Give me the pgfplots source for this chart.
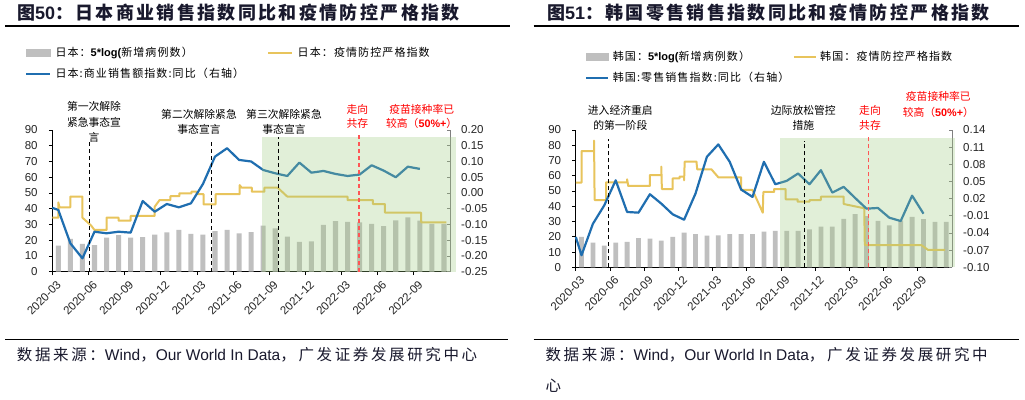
\documentclass[border=0pt]{standalone}
\usepackage{pgfplots}
\pgfplotsset{compat=1.18}
\usepackage{fontspec}
\setmainfont{Liberation Sans}
\newfontfamily\cjk{Noto Sans CJK SC}
\newfontfamily\cjkL[LetterSpace=10]{Noto Sans CJK SC}
\newfontfamily\cjkT[LetterSpace=13]{Noto Sans CJK SC}
\newfontfamily\cjkS[LetterSpace=17]{Noto Sans CJK SC}
\newcommand\fs[1]{\fontsize{#1}{#1}\selectfont}
\definecolor{barg}{RGB}{191,191,191}
\definecolor{yel}{RGB}{232,196,92}
\definecolor{blu}{RGB}{31,110,176}
\definecolor{grn}{rgb}{0.62,0.80,0.50}
\definecolor{redt}{RGB}{255,0,0}
\definecolor{redd}{RGB}{255,85,85}
\definecolor{ttl}{RGB}{25,25,45}
\definecolor{axg}{RGB}{128,128,128}
\pgfplotsset{
  base/.style={scale only axis, xmin=0, xmax=33, anchor=south west,
    /pgf/number format/assume math mode=true,
    tick label style={font=\fs{11.5}, text=black!85}},
  leftax/.style={base, ymin=0, ymax=90,
    axis x line*=bottom, axis y line*=left,
    axis line style={-, black, line width=0.8pt},
    tick style={black, line width=0.8pt},
    tick align=outside, major tick length=3.5pt,
    xtick={0,3,...,30},
    xticklabels={2020-03,2020-06,2020-09,2020-12,2021-03,2021-06,2021-09,2021-12,2022-03,2022-06,2022-09},
    xticklabel style={inner sep=0pt, xshift=6.8pt, yshift=-7.7pt, rotate=45, anchor=east},
    ytick={0,10,...,90},
    yticklabel style={inner sep=0pt, xshift=-11pt}},
  rightax/.style={base, axis x line=none, xtick=\empty, axis y line*=right,
    axis line style={-, axg, line width=0.8pt},
    tick style={axg, line width=0.8pt}, tick align=inside, major tick length=3.5pt,
    yticklabel style={inner sep=0pt, xshift=11pt}, clip=false,
    legend columns=2, legend cell align=left},
}
\begin{document}
\begin{tikzpicture}
\useasboundingbox (0pt,0pt) rectangle (1025pt,399pt);
\fill[white] (0pt,0pt) rectangle (1025pt,399pt);

% ================= LEFT CHART =================
\begin{axis}[leftax, at={(52.3pt,127.3pt)}, width=397.7pt, height=141.7pt]
\addplot[ybar, bar width=0.42, fill=barg, draw=none] coordinates {
(0.5,16.5) (1.5,20.8) (2.5,17.6) (3.5,16.9) (4.5,21.6) (5.5,23.3) (6.5,21.6) (7.5,22.0) (8.5,23.5) (9.5,25.0) (10.5,26.5) (11.5,24.0) (12.5,23.5) (13.5,25.8) (14.5,26.5) (15.5,24.4) (16.5,25.2) (17.5,29.2) (18.5,27.5) (19.5,22.2) (20.5,18.9) (21.5,19.3) (22.5,29.7) (23.5,32.2) (24.5,31.6) (25.5,31.4) (26.5,30.3) (27.5,29.0) (28.5,32.6) (29.5,34.5) (30.5,32.4) (31.5,30.3) (32.5,30.3)};
\addplot[yel, line width=2pt, line join=round] coordinates {
(0,34.3) (0.5,34.3) (0.5,44) (0.6,40.9) (1.5,40.9) (1.5,47.7) (2.5,47.7) (2.5,34.3) (3.2,29.5) (3.5,26.5) (4.5,26.5) (4.5,34.3) (5.5,34.3) (5.5,32.4) (6.5,32.4) (6.5,35.4) (8.5,35.4) (8.5,41.3) (8.9,45.5) (9.8,45.5) (9.8,48) (10.55,48) (10.55,49.8) (11.55,49.8) (11.55,50.8) (12.0,50.8) (12.0,49.2) (12.55,49.2) (12.55,42.8) (13.55,42.8) (13.55,49.2) (15.55,49.2) (15.55,55) (15.7,53.4) (16.55,53.4) (16.55,50.8) (17.6,50.8) (17.6,53.4) (18.7,53.4) (19.5,47.7) (24.5,47.7) (24.5,45.5) (26.6,45.5) (26.6,43) (27.6,43) (27.6,37.5) (30.6,37.5) (30.6,31.4) (32.7,31.4)};
\end{axis}
\begin{axis}[rightax, at={(52.3pt,127.3pt)}, width=397.7pt, height=141.7pt,
  ymin=-0.25, ymax=0.2,
  ytick={-0.25,-0.2,-0.15,-0.1,-0.05,0,0.05,0.1,0.15,0.2},
  yticklabels={-0.25,-0.20,-0.15,-0.10,-0.05,0.00,0.05,0.10,0.15,0.20},
  legend style={draw=none, fill=none, inner sep=0pt, outer sep=0pt,
    at={(-0.0686,1.5843)}, anchor=north west, column sep=4.3pt, row sep=10.3pt,
    nodes={inner sep=0pt, text height=9pt, text depth=2pt}, font={\fs{11}\cjkL}}]
\addlegendimage{legend image code/.code={\fill[barg] (0pt,-3.5pt) rectangle (24pt,3.5pt);}}
\addlegendentry{\makebox[207.4pt][l]{日本：{\rmfamily\bfseries 5*log(}新增病例数）}}
\addlegendimage{legend image code/.code={\draw[yel, line width=2.2pt] (0pt,0pt) -- (24pt,0pt);}}
\addlegendentry{日本：疫情防控严格指数}
\addplot[blu, line width=2.2pt, line join=round,
  legend image code/.code={\draw[blu, line width=2.2pt] (0pt,0pt) -- (24pt,0pt);}] coordinates {
(0,-0.047) (0.5,-0.054) (1.5,-0.160) (2.5,-0.2075) (3.5,-0.123) (4.5,-0.128) (5.5,-0.123) (6.5,-0.126) (7.5,-0.0255) (8.5,-0.0595) (9.5,-0.035) (10.5,-0.0455) (11.5,-0.033) (12.5,0.0285) (13.5,0.1155) (14.5,0.142) (15.5,0.105) (16.5,0.100) (17.5,0.073) (18.5,0.0625) (19.5,0.054) (20.5,0.0965) (21.5,0.0645) (22.5,0.070) (23.5,0.0605) (24.5,0.054) (25.5,0.0585) (26.5,0.088) (27.5,0.071) (28.5,0.050) (29.5,0.0835) (30.5,0.0765)};
\addlegendentry{日本:商业销售额指数:同比（右轴）}
\addplot[draw=none, fill=grn, fill opacity=0.3, forget plot] coordinates {(17.4,-0.25) (33.5,-0.25) (33.5,0.1785) (17.4,0.1785)} -- cycle;
\addplot[black, line width=1pt, dash pattern=on 4pt off 3pt, forget plot] coordinates {(3.05,-0.25) (3.05,0.1685)};
\addplot[black, line width=1pt, dash pattern=on 4pt off 3pt, forget plot] coordinates {(13.22,-0.25) (13.22,0.1685)};
\addplot[black, line width=1pt, dash pattern=on 4pt off 3pt, forget plot] coordinates {(18.75,-0.25) (18.75,0.1785)};
\addplot[redd, line width=1.2pt, dash pattern=on 4pt off 3pt, forget plot] coordinates {(25.45,-0.25) (25.45,0.184)};
\end{axis}

% annotations left
\begin{scope}[every node/.style={inner sep=0pt, font=\fs{10.8}\cjk}]
\node at (94pt,292.3pt) {第一次解除};
\node at (94pt,276.7pt) {紧急事态宣};
\node at (94pt,261.3pt) {言};
\node at (199pt,285pt) {第二次解除紧急};
\node at (199pt,269.7pt) {事态宣言};
\node at (284pt,285pt) {第三次解除紧急};
\node at (284pt,269.7pt) {事态宣言};
\node[text=redt] at (357.3pt,290pt) {走向};
\node[text=redt] at (357.3pt,275.7pt) {共存};
\node[text=redt] at (421.7pt,290pt) {疫苗接种率已};
\node[text=redt] at (421.7pt,275.7pt) {较高（{\rmfamily\bfseries 50\%+}）};
\end{scope}

% ================= RIGHT CHART =================
\begin{axis}[leftax, at={(575.8pt,131.7pt)}, width=376.2pt, height=137.3pt]
\addplot[ybar, bar width=0.42, fill=barg, draw=none] coordinates {
(0.5,19.9) (1.5,16.2) (2.5,14.2) (3.5,16.2) (4.5,16.6) (5.5,19.2) (6.5,18.8) (7.5,17.5) (8.5,19.9) (9.5,22.7) (10.5,21.8) (11.5,20.8) (12.5,21.0) (13.5,21.8) (14.5,21.8) (15.5,21.8) (16.5,23.4) (17.5,23.8) (18.5,23.8) (19.5,23.8) (20.5,24.9) (21.5,26.6) (22.5,26.6) (23.5,31.7) (24.5,34.9) (25.5,33.6) (26.5,30.4) (27.5,27.5) (28.5,30.6) (29.5,33.0) (30.5,31.5) (31.5,29.7) (32.5,29.7)};
\addplot[yel, line width=2pt, line join=round] coordinates {
(0,55.5) (0.5,55.5) (0.5,76.2) (1.6,76.2) (1.6,83) (1.65,44.1) (2.65,44.1) (2.65,55.7) (4.5,55.7) (4.5,57.7) (4.6,53.3) (6.5,53.3) (6.5,60.5) (7.5,60.5) (7.5,66) (7.55,51.3) (8.5,51.3) (8.5,58.3) (9.1,58.3) (9.1,59.5) (9.5,59.5) (9.5,57) (9.55,69.2) (10.6,69.2) (10.6,68) (10.65,64.2) (11.9,64.2) (12.5,59) (14.5,59) (14.5,50.7) (15.5,50.7) (16.4,35.8) (16.45,49.4) (17.4,49.4) (17.4,51.3) (18.4,51.3) (18.4,44.6) (19.45,44.6) (19.45,43) (20.5,43) (20.5,44.1) (21.5,44.1) (21.5,46.3) (23.5,46.3) (23.5,41.5) (25.3,38.7) (25.35,14.6) (30.3,14.6) (30.9,11.4) (32.4,11.4)};
\end{axis}
\begin{axis}[rightax, at={(575.8pt,131.7pt)}, width=376.2pt, height=137.3pt,
  ymin=-0.10, ymax=0.14,
  ytick={-0.10,-0.07,-0.04,-0.01,0.02,0.05,0.08,0.11,0.14},
  yticklabels={-0.10,-0.07,-0.04,-0.01,0.02,0.05,0.08,0.11,0.14},
  legend style={draw=none, fill=none, inner sep=0pt, outer sep=0pt,
    at={(0.0253,1.5717)}, anchor=north west, column sep=3.3pt, row sep=10.3pt,
    nodes={inner sep=0pt, text height=9pt, text depth=2pt}, font={\fs{11}\cjkL}}]
\addlegendimage{legend image code/.code={\fill[barg] (0pt,-3.5pt) rectangle (22pt,3.5pt);}}
\addlegendentry{\makebox[175.1pt][l]{韩国：{\rmfamily\bfseries 5*log(}新增病例数）}}
\addlegendimage{legend image code/.code={\draw[yel, line width=2.2pt] (0pt,0pt) -- (22pt,0pt);}}
\addlegendentry{韩国：疫情防控严格指数}
\addplot[blu, line width=2.2pt, line join=round,
  legend image code/.code={\draw[blu, line width=2.2pt] (0pt,0pt) -- (22pt,0pt);}] coordinates {
(0,-0.047) (0.5,-0.079) (1.5,-0.024) (2.5,0.0084) (3.5,0.052) (4.5,-0.0033) (5.5,-0.0045) (6.5,0.0277) (7.5,0.0113) (8.5,-0.0074) (9.5,-0.0168) (10.5,0.0289) (11.5,0.0932) (12.5,0.1148) (13.5,0.0844) (14.5,0.0359) (15.5,0.023) (16.5,0.0844) (17.5,0.0452) (18.5,0.0511) (19.5,0.064) (20.5,0.0452) (21.5,0.0698) (22.5,0.0306) (23.5,0.0406) (24.5,0.0212) (25.5,0.0025) (26.5,0.0037) (27.5,-0.0133) (28.5,-0.0191) (29.5,0.0253) (30.5,-0.0063)};
\addlegendentry{韩国:零售销售指数:同比（右轴）}
\addplot[draw=none, fill=grn, fill opacity=0.3, forget plot] coordinates {(17.95,-0.10) (33.3,-0.10) (33.3,0.1267) (17.95,0.1267)} -- cycle;
\addplot[black, line width=1pt, dash pattern=on 4pt off 3pt, forget plot] coordinates {(2.86,-0.10) (2.86,0.124)};
\addplot[black, line width=1pt, dash pattern=on 4pt off 3pt, forget plot] coordinates {(20.1,-0.10) (20.1,0.1213)};
\addplot[redd, line width=1.2pt, dash pattern=on 4pt off 3pt, forget plot] coordinates {(25.66,-0.10) (25.66,0.1312)};
\end{axis}

\begin{scope}[every node/.style={inner sep=0pt, font=\fs{10.8}\cjk}]
\node at (620.3pt,288.3pt) {进入经济重启};
\node at (620.3pt,273.3pt) {的第一阶段};
\node at (803.3pt,289pt) {边际放松管控};
\node at (803.3pt,274pt) {措施};
\node[text=redt] at (870pt,288.3pt) {走向};
\node[text=redt] at (870pt,274pt) {共存};
\node[text=redt] at (938.3pt,303pt) {疫苗接种率已};
\node[text=redt] at (938.3pt,286.3pt) {较高（{\rmfamily\bfseries 50\%+}）};
\end{scope}

% ================= TITLES, RULES, SOURCES =================
\node[anchor=west, inner sep=0pt, text=ttl, font=\fs{18}] at (17pt,386.7pt)
  {{\cjkT\bfseries 图}{\bfseries 50}{\cjkT\bfseries ：日本商业销售指数同比和疫情防控严格指数}};
\node[anchor=west, inner sep=0pt, text=ttl, font=\fs{18}] at (547pt,386.7pt)
  {{\cjkT\bfseries 图}{\bfseries 51}{\cjkT\bfseries ：韩国零售销售指数同比和疫情防控严格指数}};
\draw[black, line width=1.2pt] (5pt,373pt) -- (510pt,373pt);
\draw[black, line width=1.2pt] (533.7pt,373pt) -- (1018.7pt,373pt);
\draw[black, line width=1.2pt] (5pt,59.7pt) -- (508pt,59.7pt);
\draw[black, line width=1.2pt] (533.7pt,59.7pt) -- (1018.7pt,59.7pt);
\node[anchor=west, inner sep=0pt, text=ttl, font=\fs{15.5}] at (16.7pt,44pt)
  {{\cjkS 数据来源：}Wind{\cjkS ，}Our World In Data{\cjkS ，广发证券发展研究中心}};
\node[anchor=west, inner sep=0pt, text=ttl, font=\fs{15.5}] at (545.3pt,44pt)
  {{\cjkS 数据来源：}Wind{\cjkS ，}Our World In Data{\cjkS ，广发证券发展研究中}};
\node[anchor=west, inner sep=0pt, text=ttl, font=\fs{15.5}] at (545.3pt,13pt) {{\cjkS 心}};
\end{tikzpicture}
\end{document}
